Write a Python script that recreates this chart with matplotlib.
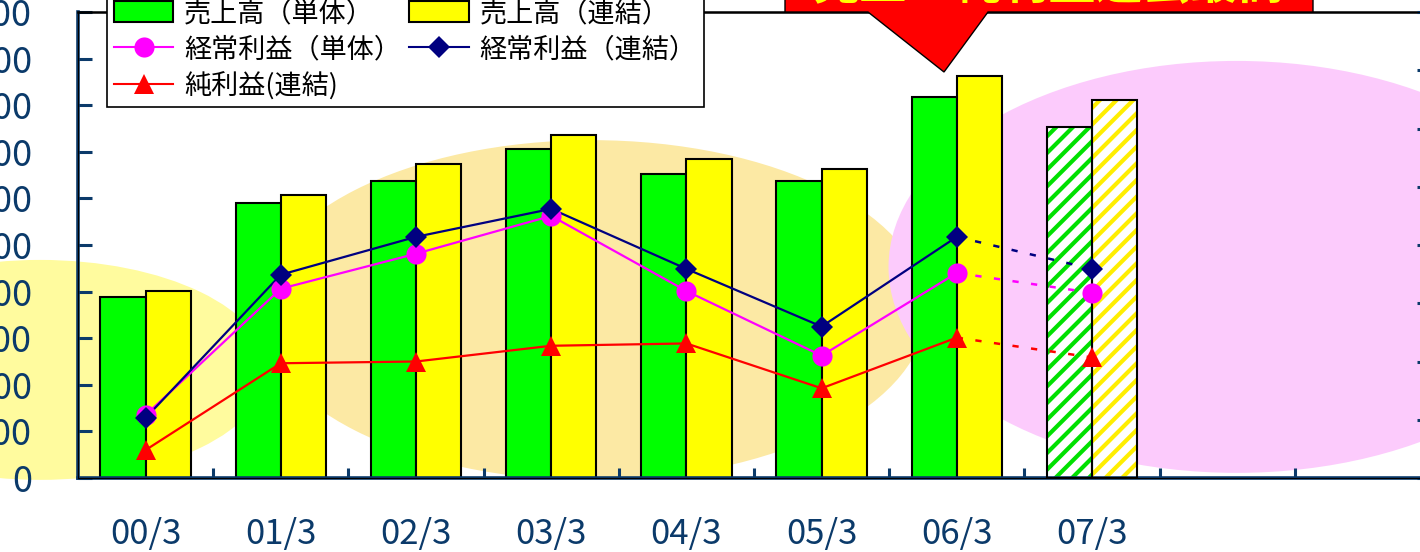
import matplotlib
matplotlib.use('Agg')
import matplotlib.pyplot as plt
from matplotlib.patches import Ellipse, Polygon, Patch
from matplotlib.lines import Line2D
import numpy as np

plt.rcParams['font.family'] = ['Noto Sans CJK JP', 'DejaVu Sans']
plt.rcParams['hatch.linewidth'] = 3.0

# fiscal years (March year-end)
years = ['00/3', '01/3', '02/3', '03/3', '04/3', '05/3', '06/3', '07/3']

# sales (left axis)
sales_single = [388, 591, 638, 706, 652, 638, 818, 753]
sales_consol = [401, 607, 673, 736, 684, 663, 863, 811]

# profits (right axis)
ordinary_single = [10.8, 32.5, 38.5, 45.0, 32.1, 21.0, 35.2, 31.8]
ordinary_consol = [10.3, 34.9, 41.4, 46.2, 35.9, 26.0, 41.4, 35.9]
net_consol = [4.8, 19.7, 20.0, 22.7, 23.1, 15.4, 24.1, 20.7]

left_ticks = list(range(0, 1001, 100))
right_ticks = list(range(0, 81, 10))

NAVY = '#0b3a6a'
W, H = 1420, 552

fig = plt.figure(figsize=(W / 100, H / 100), dpi=100)
ax = fig.add_axes([78 / W, (H - 478) / H, 1352 / W, 466 / H])
ax.set_facecolor('none')

# soft background blobs
ax.add_patch(Ellipse((-0.78, 232), 3.36, 472, facecolor='#fffb9e', edgecolor='none',
                     zorder=0, clip_on=False))
ax.add_patch(Ellipse((3.3, 360), 4.95, 730, facecolor='#fce9a4', edgecolor='none',
                     zorder=0))
ax.add_patch(Ellipse((8.07, 453), 5.15, 884, facecolor='#fccbfc', edgecolor='none',
                     zorder=0))

x = np.arange(len(years))
bw = 0.335
n_actual = 7  # last year is a forecast
ax.bar(x[:n_actual] - bw / 2, sales_single[:n_actual], bw, color='#00ff00',
       edgecolor='black', linewidth=1.5, zorder=2)
ax.bar(x[:n_actual] + bw / 2, sales_consol[:n_actual], bw, color='#ffff00',
       edgecolor='black', linewidth=1.5, zorder=2)
# forecast bars: hatched
ax.bar(x[n_actual:] - bw / 2, sales_single[n_actual:], bw, color='white',
       edgecolor='#00e000', hatch='//', linewidth=0, zorder=2)
ax.bar(x[n_actual:] + bw / 2, sales_consol[n_actual:], bw, color='white',
       edgecolor='#ffee00', hatch='//', linewidth=0, zorder=2)
ax.bar(x[n_actual:] - bw / 2, sales_single[n_actual:], bw, fill=False,
       edgecolor='black', linewidth=1.5, zorder=3)
ax.bar(x[n_actual:] + bw / 2, sales_consol[n_actual:], bw, fill=False,
       edgecolor='black', linewidth=1.5, zorder=3)

ax.set_xlim(-0.5, 9.5)
ax.set_ylim(0, 1000)
ax.set_yticks(left_ticks)
ax.set_xticks(x)
ax.set_xticklabels(years)
ax.set_xticks(np.arange(0.5, 9, 1.0), minor=True)
ax.tick_params(axis='x', which='major', length=0, pad=28, labelsize=25, labelcolor=NAVY)
ax.tick_params(axis='x', which='minor', direction='in', length=7, width=2.2, color=NAVY)
ax.tick_params(axis='y', direction='in', length=10, width=2.2, color=NAVY,
               pad=33, labelsize=26, labelcolor=NAVY)
for s in ['left', 'bottom', 'right']:
    ax.spines[s].set_color(NAVY)
    ax.spines[s].set_linewidth(2.6)
ax.spines['top'].set_color('black')
ax.spines['top'].set_linewidth(1.8)

ax2 = ax.twinx()
ax2.set_ylim(0, 80)
ax2.set_yticks(right_ticks)
ax2.tick_params(axis='y', direction='in', length=9.5, width=2.2, color=NAVY,
                labelsize=26, labelcolor=NAVY)
ax2.spines['right'].set_color(NAVY)
ax2.spines['right'].set_linewidth(2.6)

series = [
    (ordinary_single, '#ff00ff', 'o', 14.5),
    (ordinary_consol, '#000080', 'D', 11),
    (net_consol, '#ff0000', '^', 14.5),
]
for vals, c, m, ms in series:
    ax2.plot(x[:n_actual], vals[:n_actual], color=c, lw=1.6, zorder=4)
    ax2.plot(x[n_actual - 1:], vals[n_actual - 1:], color=c, lw=1.8,
             linestyle=(0, (2.5, 5)), zorder=4)
    ax2.plot(x, vals, linestyle='none', marker=m, markersize=ms, color=c,
             markeredgewidth=0, zorder=5)

handles = [
    Patch(facecolor='#00ff00', edgecolor='black', linewidth=1.5),
    Line2D([], [], color='#ff00ff', lw=1.5, marker='o', markersize=14.5, markeredgewidth=0),
    Line2D([], [], color='#ff0000', lw=1.5, marker='^', markersize=14.5, markeredgewidth=0),
    Patch(facecolor='#ffff00', edgecolor='black', linewidth=1.5),
    Line2D([], [], color='#000080', lw=1.5, marker='D', markersize=11, markeredgewidth=0),
]
labels = ['売上高（単体）', '経常利益（単体）', '純利益(連結)',
          '売上高（連結）', '経常利益（連結）']
leg = ax2.legend(handles, labels, ncol=2, loc='lower left',
                 bbox_to_anchor=(107 / W, 1 - 107 / H), bbox_transform=fig.transFigure,
                 fontsize=19.5, frameon=True, fancybox=False, edgecolor='black',
                 framealpha=1, handlelength=2.2, handleheight=0.8, handletextpad=0.4,
                 columnspacing=0.3, labelspacing=0.33, borderpad=0.25,
                 borderaxespad=0)
leg.get_frame().set_linewidth(1.2)


def fpx(px, py):
    return (px / W, 1 - py / H)


# callout box with pointer
callout = Polygon([fpx(785, -80), fpx(1313, -80), fpx(1313, 12), fpx(988, 12),
                   fpx(944, 72), fpx(868, 12), fpx(785, 12)],
                  closed=True, facecolor='#ff0000', edgecolor='black', linewidth=1,
                  transform=fig.transFigure, zorder=10)
fig.add_artist(callout)
fig.text(1049 / W, 1 + 1 / H, '売上・純利益過去最高', ha='center', va='baseline',
         fontsize=34, fontweight='bold', color='#ffff00', zorder=11)

fig.savefig('out.png', dpi=100)
